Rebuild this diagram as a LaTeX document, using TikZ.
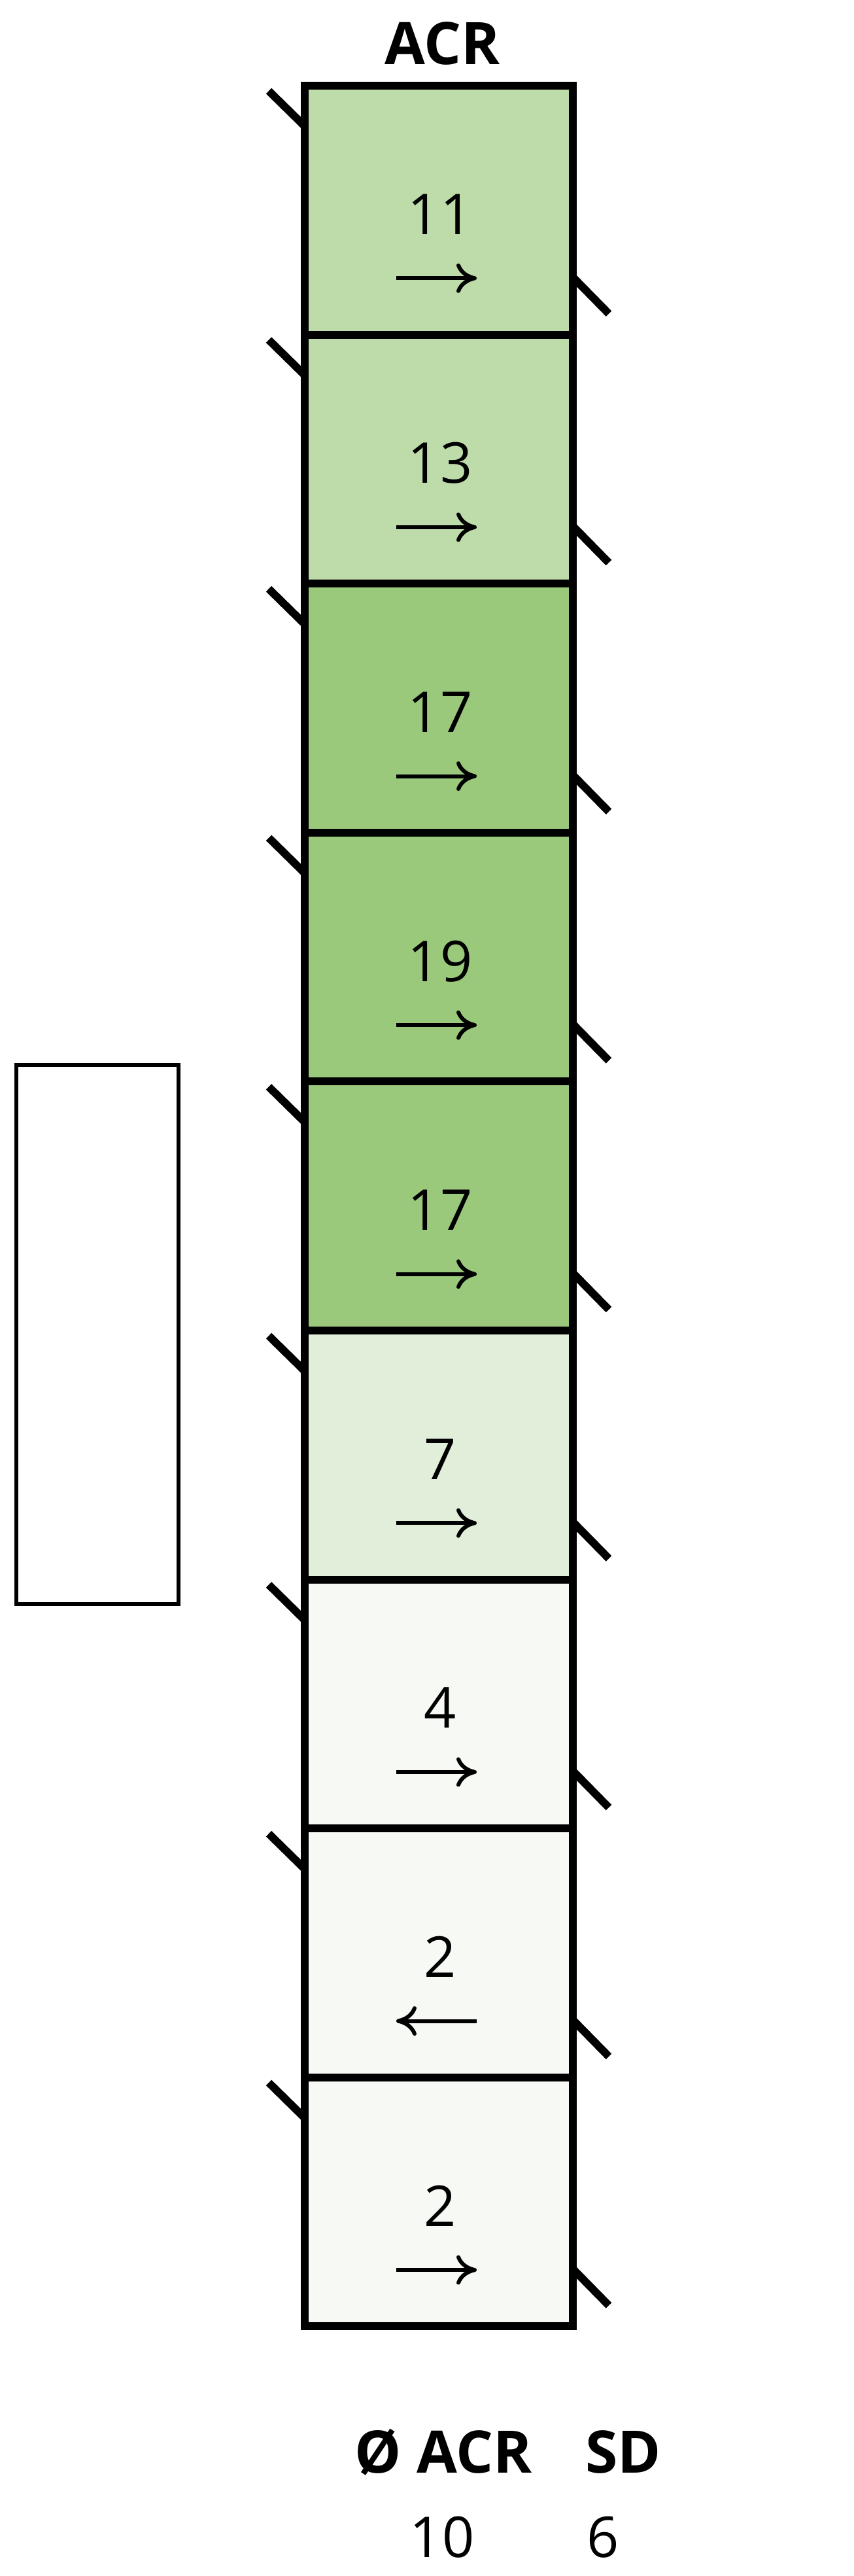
\documentclass[tikz,border=0pt]{standalone}
\usepackage{fontspec}
\setmainfont{Open Sans}
\usetikzlibrary{arrows.meta}
\definecolor{acrgreen}{HTML}{BEDCAA}
\definecolor{acrdark}{HTML}{9BC97B}
\definecolor{acrpale}{HTML}{E1EFDA}
\definecolor{acrwhite}{HTML}{F7F9F4}
\tikzset{
  cell/.style={draw, line width=0.12cm, minimum width=4.1cm, minimum height=3.806cm, inner sep=0pt, outer sep=0pt},
  hatch/.style={line width=0.12cm},
  flow/.style={line width=0.06cm, -{To[length=3.1mm,width=4.5mm]}},
  num/.style={anchor=base, font=\fontsize{24.5}{28}\selectfont},
  headline/.style={anchor=base, font=\fontsize{25.5}{30}\selectfont\bfseries}
}
\begin{document}
\begin{tikzpicture}
            \useasboundingbox (0, 0) rectangle (13.06, -39.38);
            \node[headline] (acr) at (6.77, -0.99) {ACR};
            \node[cell, fill=acrgreen] (c1) at (6.71, -3.213) {};
            \node[cell, fill=acrgreen] (c2) at (6.71, -7.019) {};
            \node[cell, fill=acrdark] (c3) at (6.71, -10.825) {};
            \node[cell, fill=acrdark] (c4) at (6.71, -14.631) {};
            \node[cell, fill=acrdark] (c5) at (6.71, -18.437) {};
            \node[cell, fill=acrpale] (c6) at (6.71, -22.243) {};
            \node[cell, fill=acrwhite] (c7) at (6.71, -26.049) {};
            \node[cell, fill=acrwhite] (c8) at (6.71, -29.855) {};
            \node[cell, fill=acrwhite] (c9) at (6.71, -33.661) {};
            \node[num] (n1) at ([xshift=0.02cm, yshift=-0.37cm]c1.center) {11};
            \node[num] (n2) at ([xshift=0.02cm, yshift=-0.37cm]c2.center) {13};
            \node[num] (n3) at ([xshift=0.02cm, yshift=-0.37cm]c3.center) {17};
            \node[num] (n4) at ([xshift=0.02cm, yshift=-0.37cm]c4.center) {19};
            \node[num] (n5) at ([xshift=0.02cm, yshift=-0.37cm]c5.center) {17};
            \node[num] (n6) at ([xshift=0.02cm, yshift=-0.37cm]c6.center) {7};
            \node[num] (n7) at ([xshift=0.02cm, yshift=-0.37cm]c7.center) {4};
            \node[num] (n8) at ([xshift=0.02cm, yshift=-0.37cm]c8.center) {2};
            \node[num] (n9) at ([xshift=0.02cm, yshift=-0.37cm]c9.center) {2};
            \draw[flow] ([shift={(-0.65, -1.04)}]c1.center) -- ([shift={(0.58, -1.04)}]c1.center);
            \draw[flow] ([shift={(-0.65, -1.04)}]c2.center) -- ([shift={(0.58, -1.04)}]c2.center);
            \draw[flow] ([shift={(-0.65, -1.04)}]c3.center) -- ([shift={(0.58, -1.04)}]c3.center);
            \draw[flow] ([shift={(-0.65, -1.04)}]c4.center) -- ([shift={(0.58, -1.04)}]c4.center);
            \draw[flow] ([shift={(-0.65, -1.04)}]c5.center) -- ([shift={(0.58, -1.04)}]c5.center);
            \draw[flow] ([shift={(-0.65, -1.04)}]c6.center) -- ([shift={(0.58, -1.04)}]c6.center);
            \draw[flow] ([shift={(-0.65, -1.04)}]c7.center) -- ([shift={(0.58, -1.04)}]c7.center);
            \draw[flow] ([shift={(0.58, -1.04)}]c8.center) -- ([shift={(-0.65, -1.04)}]c8.center);
            \draw[flow] ([shift={(-0.65, -1.04)}]c9.center) -- ([shift={(0.58, -1.04)}]c9.center);
            \draw[hatch] ([shift={(-0.55, -0.08)}]c1.north west) -- ([yshift=-0.62cm]c1.north west);
            \draw[hatch] ([shift={(-0.55, -0.08)}]c2.north west) -- ([yshift=-0.62cm]c2.north west);
            \draw[hatch] ([shift={(-0.55, -0.08)}]c3.north west) -- ([yshift=-0.62cm]c3.north west);
            \draw[hatch] ([shift={(-0.55, -0.08)}]c4.north west) -- ([yshift=-0.62cm]c4.north west);
            \draw[hatch] ([shift={(-0.55, -0.08)}]c5.north west) -- ([yshift=-0.62cm]c5.north west);
            \draw[hatch] ([shift={(-0.55, -0.08)}]c6.north west) -- ([yshift=-0.62cm]c6.north west);
            \draw[hatch] ([shift={(-0.55, -0.08)}]c7.north west) -- ([yshift=-0.62cm]c7.north west);
            \draw[hatch] ([shift={(-0.55, -0.08)}]c8.north west) -- ([yshift=-0.62cm]c8.north west);
            \draw[hatch] ([shift={(-0.55, -0.08)}]c9.north west) -- ([yshift=-0.62cm]c9.north west);
            \draw[hatch] ([yshift=0.88cm]c1.south east) -- ([shift={(0.55, 0.32)}]c1.south east);
            \draw[hatch] ([yshift=0.88cm]c2.south east) -- ([shift={(0.55, 0.32)}]c2.south east);
            \draw[hatch] ([yshift=0.88cm]c3.south east) -- ([shift={(0.55, 0.32)}]c3.south east);
            \draw[hatch] ([yshift=0.88cm]c4.south east) -- ([shift={(0.55, 0.32)}]c4.south east);
            \draw[hatch] ([yshift=0.88cm]c5.south east) -- ([shift={(0.55, 0.32)}]c5.south east);
            \draw[hatch] ([yshift=0.88cm]c6.south east) -- ([shift={(0.55, 0.32)}]c6.south east);
            \draw[hatch] ([yshift=0.88cm]c7.south east) -- ([shift={(0.55, 0.32)}]c7.south east);
            \draw[hatch] ([yshift=0.88cm]c8.south east) -- ([shift={(0.55, 0.32)}]c8.south east);
            \draw[hatch] ([yshift=0.88cm]c9.south east) -- ([shift={(0.55, 0.32)}]c9.south east);
            \draw[line width=0.06cm] (0.25, -16.28) rectangle (2.73, -24.52);
            \node[headline] (mean) at (6.78, -37.8) {Ø ACR};
            \node[headline, anchor=base west] (sd) at (8.83, -37.8) {SD};
            \node[num] (meanval) at (6.76, -39.09) {10};
            \node[num, anchor=base west] (sdval) at (8.85, -39.09) {6};
        \end{tikzpicture}
\end{document}
